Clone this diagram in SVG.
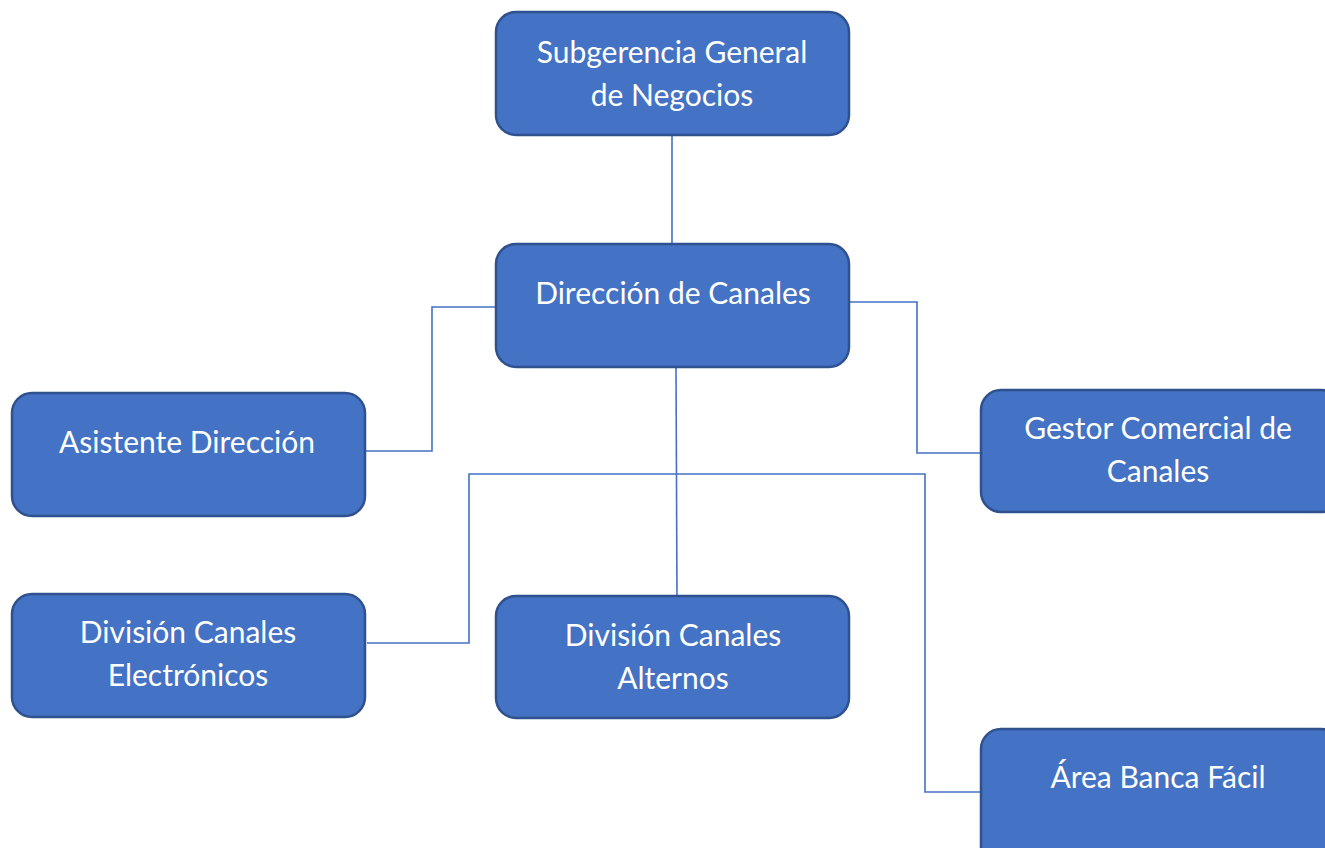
<svg xmlns="http://www.w3.org/2000/svg" width="1325" height="848" viewBox="0 0 1325 848">
<style>
.box{fill:#4472C4;stroke:#2F528F;stroke-width:2.5}
.lbl{font-family:Lato,"Open Sans",sans-serif;font-size:30px;fill:#ffffff;text-anchor:middle}
.con{fill:none;stroke:#4472C4;stroke-width:1.6}
</style>
<rect width="1325" height="848" fill="#ffffff"/>
<g id="connectors">
<path class="con" d="M672,135 V244"/>
<path class="con" d="M496,307 H432 V451 H365"/>
<path class="con" d="M849,302 H917 V453 H981"/>
<path class="con" d="M676,367 L677,596"/>
<path class="con" d="M367,643 H469 V474 H925 V792 H981"/>
</g>
<g id="n1"><rect class="box" x="496" y="12" width="353" height="123" rx="20"/><text class="lbl" x="672" y="63">Subgerencia General</text><text class="lbl" x="672" y="106">de Negocios</text></g>
<g id="n2"><rect class="box" x="496" y="244" width="353" height="123" rx="20"/><text class="lbl" x="673" y="304">Dirección de Canales</text></g>
<g id="n3"><rect class="box" x="12" y="393" width="353" height="123" rx="20"/><text class="lbl" x="187" y="453">Asistente Dirección</text></g>
<g id="n4"><rect class="box" x="981" y="390" width="360" height="122" rx="20"/><text class="lbl" x="1158" y="439">Gestor Comercial de</text><text class="lbl" x="1158" y="482">Canales</text></g>
<g id="n5"><rect class="box" x="12" y="594" width="353" height="123" rx="20"/><text class="lbl" x="188" y="643">División Canales</text><text class="lbl" x="188" y="686">Electrónicos</text></g>
<g id="n6"><rect class="box" x="496" y="596" width="353" height="122" rx="20"/><text class="lbl" x="673" y="646">División Canales</text><text class="lbl" x="673" y="689">Alternos</text></g>
<g id="n7"><rect class="box" x="981" y="729" width="360" height="140" rx="20"/><text class="lbl" x="1158" y="788">Área Banca Fácil</text></g>
</svg>
